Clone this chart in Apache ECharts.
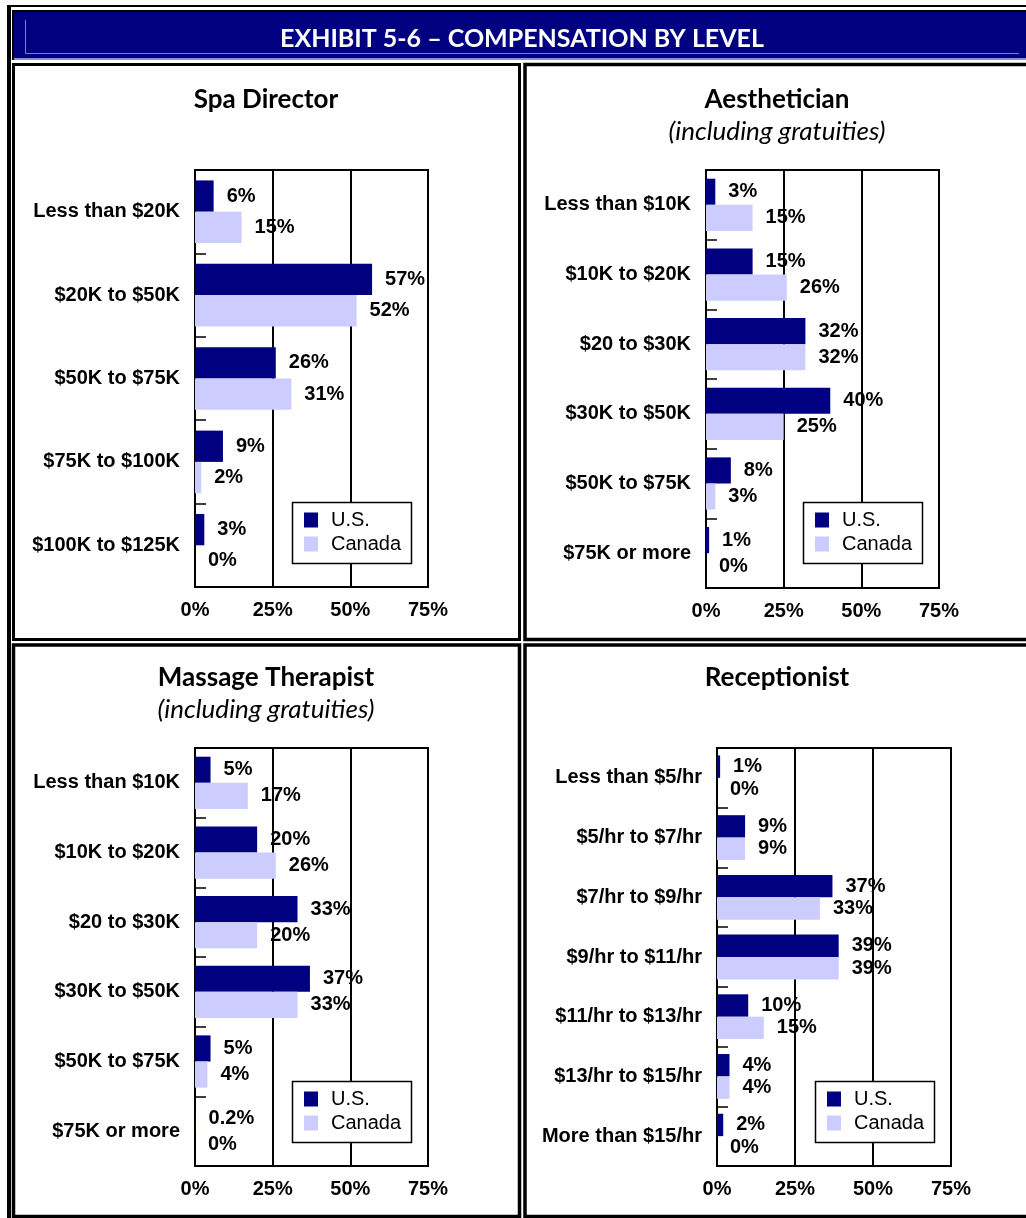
<!DOCTYPE html>
<html>
<head>
<meta charset="utf-8">
<title>Exhibit 5-6 Compensation by Level</title>
<script src="https://cdn.jsdelivr.net/npm/echarts/dist/echarts.min.js"></script>
<style>
  html, body { margin: 0; padding: 0; background: #fff; }
</style>
</head>
<body>
<div id="chart" style="width: 1026px; height: 1218px"></div>
<script>
// data read from the exhibit
const seriesNames = ["U.S.", "Canada"];
const pctTicks = [0, 25, 50, 75];

const spaCats = ["Less than $20K", "$20K to $50K", "$50K to $75K", "$75K to $100K", "$100K to $125K"];
const spaUS = [6, 57, 26, 9, 3];
const spaCanada = [15, 52, 31, 2, 0];

const aesCats = ["Less than $10K", "$10K to $20K", "$20 to $30K", "$30K to $50K", "$50K to $75K", "$75K or more"];
const aesUS = [3, 15, 32, 40, 8, 1];
const aesCanada = [15, 26, 32, 25, 3, 0];

const masCats = ["Less than $10K", "$10K to $20K", "$20 to $30K", "$30K to $50K", "$50K to $75K", "$75K or more"];
const masUS = [5, 20, 33, 37, 5, 0.2];
const masCanada = [17, 26, 20, 33, 4, 0];

const recCats = ["Less than $5/hr", "$5/hr to $7/hr", "$7/hr to $9/hr", "$9/hr to $11/hr", "$11/hr to $13/hr", "$13/hr to $15/hr", "More than $15/hr"];
const recUS = [1, 9, 37, 39, 10, 4, 2];
const recCanada = [0, 9, 33, 39, 15, 4, 0];

const NAVY = "#000080";
const LILAC = "#ccccff";
const ARIAL = "Liberation Sans, Arial, sans-serif";
const OPTIMA = "Lato, 'Open Sans', sans-serif";

// one panel per job title
const panels = [
  { title: "Spa Director", sub: "", cats: spaCats, us: spaUS, ca: spaCanada,
    grid: { left: 195, top: 170, width: 233, height: 417 }, cx: 261, ty: 82, legend: [292, 502] },
  { title: "Aesthetician", sub: "(including gratuities)", cats: aesCats, us: aesUS, ca: aesCanada,
    grid: { left: 706, top: 170, width: 233, height: 418 }, cx: 772, ty: 82, legend: [803, 502] },
  { title: "Massage Therapist", sub: "(including gratuities)", cats: masCats, us: masUS, ca: masCanada,
    grid: { left: 195, top: 748, width: 233, height: 418 }, cx: 261, ty: 660, legend: [292, 1081] },
  { title: "Receptionist", sub: "", cats: recCats, us: recUS, ca: recCanada,
    grid: { left: 717, top: 748, width: 234, height: 418 }, cx: 772, ty: 660, legend: [815, 1081] }
];

const valueLabel = {
  show: true,
  position: "right",
  distance: 13,
  color: "#000",
  fontFamily: ARIAL,
  fontWeight: "bold",
  fontSize: 20,
  formatter: p => p.value + "%"
};

const option = {
  animation: false,
  backgroundColor: "#fff",
  title: [
    {
      text: "EXHIBIT 5-6 – COMPENSATION BY LEVEL",
      left: 517, top: 21, textAlign: "center",
      textStyle: { color: "#fff", fontFamily: OPTIMA, fontWeight: "bold", fontSize: 25 }
    }
  ].concat(panels.map(p => ({
    text: p.title,
    subtext: p.sub,
    left: p.cx, top: p.ty, textAlign: "center", itemGap: 6,
    textStyle: { color: "#000", fontFamily: OPTIMA, fontWeight: "bold", fontSize: 26 },
    subtextStyle: { color: "#000", fontFamily: OPTIMA, fontStyle: "italic", fontSize: 26 }
  }))),
  legend: panels.map(p => ({
    data: seriesNames,
    orient: "vertical",
    left: p.legend[0], top: p.legend[1],
    padding: [8, 0, 0, 12],
    itemWidth: 14, itemHeight: 15, itemGap: 4,
    icon: "rect",
    selectedMode: false,
    textStyle: { color: "#000", fontFamily: ARIAL, fontSize: 20, padding: [0, 0, 0, 8] }
  })),
  grid: panels.map(p => Object.assign({
    show: true, borderColor: "#000", borderWidth: 2, backgroundColor: "transparent"
  }, p.grid)),
  xAxis: panels.map((p, i) => ({
    type: "value",
    gridIndex: i,
    min: pctTicks[0], max: pctTicks[pctTicks.length - 1], interval: pctTicks[1] - pctTicks[0],
    axisLine: { show: false },
    axisTick: { show: false },
    splitLine: { show: true, lineStyle: { color: "#000", width: 2 } },
    axisLabel: { margin: 13, color: "#000", fontFamily: ARIAL, fontWeight: "bold", fontSize: 20, formatter: "{value}%" }
  })),
  yAxis: panels.map((p, i) => ({
    type: "category",
    gridIndex: i,
    inverse: true,
    data: p.cats,
    axisLine: { show: false },
    axisTick: { show: true, inside: true, length: 11, lineStyle: { color: "#000", width: 1.5 } },
    axisLabel: { margin: 15, color: "#000", fontFamily: ARIAL, fontWeight: "bold", fontSize: 20 }
  })),
  series: panels.flatMap((p, i) => [
    { name: seriesNames[0], type: "bar", xAxisIndex: i, yAxisIndex: i, data: p.us,
      itemStyle: { color: NAVY }, barGap: 0, barCategoryGap: "25%", label: valueLabel },
    { name: seriesNames[1], type: "bar", xAxisIndex: i, yAxisIndex: i, data: p.ca,
      itemStyle: { color: LILAC }, barGap: 0, barCategoryGap: "25%", label: valueLabel }
  ]),
  graphic: [
    // outer double frame
    { type: "rect", shape: { x: 7, y: 5, width: 1019, height: 2 }, style: { fill: "#000" } },
    { type: "rect", shape: { x: 7, y: 5, width: 4, height: 1213 }, style: { fill: "#000" } },
    // header band
    { type: "rect", shape: { x: 12, y: 10, width: 1014, height: 51 }, style: { fill: "#000" } },
    { type: "rect", shape: { x: 14, y: 12, width: 1012, height: 47 }, style: { fill: NAVY } },
    { type: "polyline", shape: { points: [[25.5, 20], [25.5, 53.5], [1019, 53.5]] }, style: { stroke: "#7b7bd6", lineWidth: 1, fill: null } },
    { type: "rect", shape: { x: 14, y: 58, width: 1012, height: 2 }, style: { fill: "#8c8cd8" } },
    { type: "rect", shape: { x: 12, y: 60, width: 1014, height: 3 }, style: { fill: "#fff" } },
    // panel frames
    { type: "rect", shape: { x: 13.5, y: 64.5, width: 506, height: 575 }, style: { fill: null, stroke: "#000", lineWidth: 3 } },
    { type: "rect", shape: { x: 525, y: 64.5, width: 510, height: 575 }, style: { fill: null, stroke: "#000", lineWidth: 3.5 } },
    { type: "rect", shape: { x: 13.5, y: 645, width: 506, height: 571.5 }, style: { fill: null, stroke: "#000", lineWidth: 3.5 } },
    { type: "rect", shape: { x: 525, y: 645, width: 510, height: 571.5 }, style: { fill: null, stroke: "#000", lineWidth: 3.5 } }
  ].concat(panels.map(p => ({
    // legend boxes
    type: "rect", z: 3,
    shape: { x: p.legend[0] + 0.5, y: p.legend[1] + 0.5, width: 119, height: 61 },
    style: { fill: "#fff", stroke: "#000", lineWidth: 1.5 }
  })))
};

const myChart = echarts.init(document.getElementById("chart"));
myChart.setOption(option);
</script>
</body>
</html>
